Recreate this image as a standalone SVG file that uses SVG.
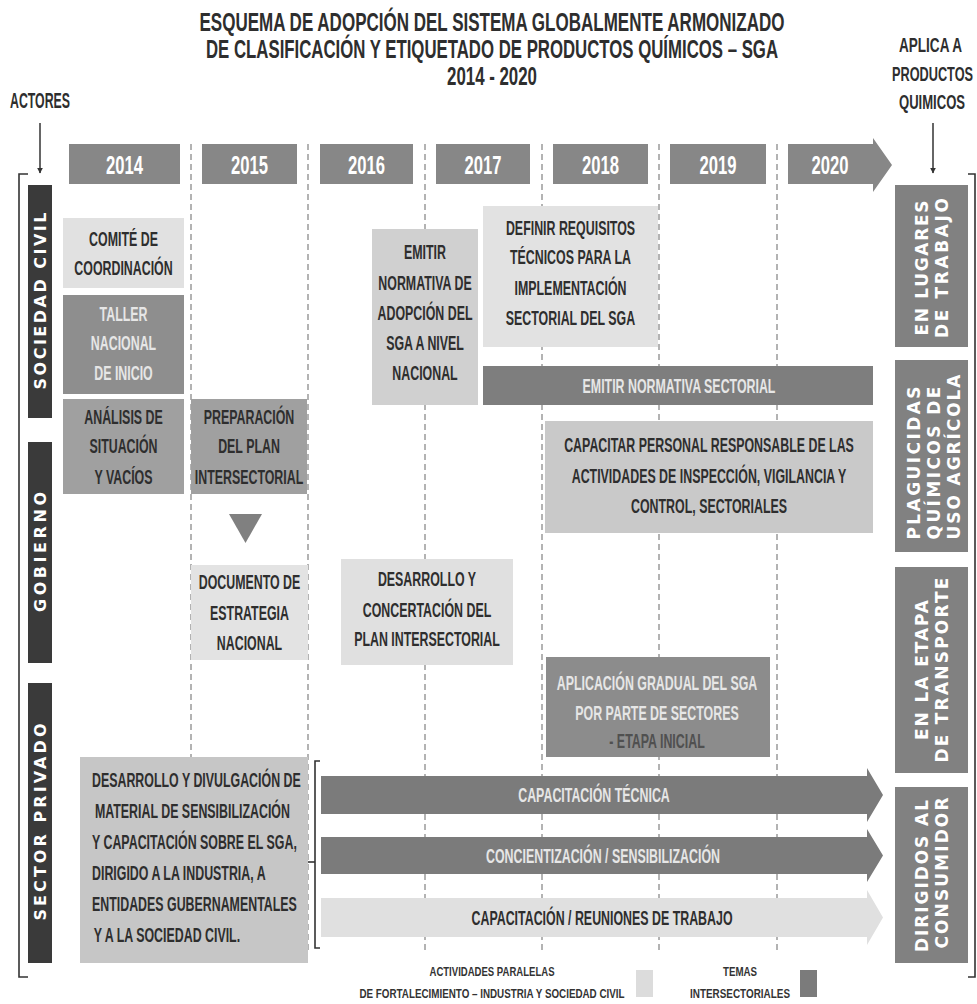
<svg xmlns="http://www.w3.org/2000/svg" width="977" height="1004" viewBox="0 0 977 1004">
<style>
.tt{font-family:"Liberation Sans",Arial,sans-serif;font-weight:bold;fill:#2e2e2e;text-anchor:middle}
.b{font-family:"Liberation Sans",Arial,sans-serif;font-weight:bold;font-size:21px;text-anchor:middle}
.s{text-anchor:start}
.dk{fill:#2e2e2e}
.lt{fill:#e6e6e6}
.yr{font-family:"Liberation Sans",Arial,sans-serif;font-weight:bold;font-size:25px;fill:#fff;text-anchor:middle}
.v{font-family:"DejaVu Sans",sans-serif;font-weight:bold;font-size:16px;fill:#fff;text-anchor:middle;dominant-baseline:central}
.vr{font-family:"DejaVu Sans",sans-serif;font-weight:bold;font-size:17px;fill:#fff;text-anchor:middle;dominant-baseline:central}
.lg{font-family:"Liberation Sans",Arial,sans-serif;font-weight:bold;font-size:13px;fill:#333;text-anchor:middle}
.dash{stroke:#9a9a9a;stroke-width:1.5;stroke-dasharray:6 4;fill:none}
.yb{fill:#878787}
.br{stroke:#333;stroke-width:1.6;fill:none}
.con{stroke:#333;stroke-width:1.5;fill:none}
</style>
<defs>
<marker id="ah" viewBox="0 0 10 10" refX="9" refY="5" markerWidth="6" markerHeight="7" orient="auto" markerUnits="userSpaceOnUse">
<path d="M0,0 L10,5 L0,10 z" fill="#333"/>
</marker>
</defs>
<rect width="977" height="1004" fill="#fff"/>

<g id="title">
<text class="tt" x="492" y="31" font-size="26" textLength="585" lengthAdjust="spacingAndGlyphs">ESQUEMA DE ADOPCIÓN DEL SISTEMA GLOBALMENTE ARMONIZADO</text>
<text class="tt" x="492" y="58" font-size="26" textLength="572" lengthAdjust="spacingAndGlyphs">DE CLASIFICACIÓN Y ETIQUETADO DE PRODUCTOS QUÍMICOS – SGA</text>
<text class="tt" x="492" y="85" font-size="26" textLength="90" lengthAdjust="spacingAndGlyphs">2014 - 2020</text>
</g>
<g id="actores-label">
<text class="tt" x="40" y="108" font-size="22" textLength="60" lengthAdjust="spacingAndGlyphs">ACTORES</text>
</g>
<g id="aplica-label">
<text class="tt" x="930.5" y="52" font-size="21" textLength="63" lengthAdjust="spacingAndGlyphs">APLICA A</text>
<text class="tt" x="932.5" y="81" font-size="21" textLength="81" lengthAdjust="spacingAndGlyphs">PRODUCTOS</text>
<text class="tt" x="932" y="109" font-size="21" textLength="66" lengthAdjust="spacingAndGlyphs">QUIMICOS</text>
</g>

<g id="grid">
<line class="dash" x1="191" y1="144" x2="191" y2="953"/>
<line class="dash" x1="308" y1="144" x2="308" y2="953"/>
<line class="dash" x1="425" y1="144" x2="425" y2="953"/>
<line class="dash" x1="542" y1="144" x2="542" y2="953"/>
<line class="dash" x1="659" y1="144" x2="659" y2="953"/>
<line class="dash" x1="777" y1="144" x2="777" y2="953"/>
</g>

<g id="years">
<rect class="yb" x="69" y="144" width="111" height="40"/>
<text class="yr" x="124.5" y="174" textLength="37" lengthAdjust="spacingAndGlyphs">2014</text>
<rect class="yb" x="202" y="144" width="95" height="40"/>
<text class="yr" x="249.5" y="174" textLength="37" lengthAdjust="spacingAndGlyphs">2015</text>
<rect class="yb" x="320" y="144" width="93" height="40"/>
<text class="yr" x="366.5" y="174" textLength="37" lengthAdjust="spacingAndGlyphs">2016</text>
<rect class="yb" x="436" y="144" width="94" height="40"/>
<text class="yr" x="483" y="174" textLength="37" lengthAdjust="spacingAndGlyphs">2017</text>
<rect class="yb" x="553" y="144" width="95" height="40"/>
<text class="yr" x="600.5" y="174" textLength="37" lengthAdjust="spacingAndGlyphs">2018</text>
<rect class="yb" x="670" y="144" width="96" height="40"/>
<text class="yr" x="718" y="174" textLength="37" lengthAdjust="spacingAndGlyphs">2019</text>
<polygon class="yb" points="788,144 873,144 873,138 892,165 873,192 873,184 788,184"/>
<text class="yr" x="830" y="174" textLength="37" lengthAdjust="spacingAndGlyphs">2020</text>
</g>

<g id="brackets">
<polyline class="br" points="28,174 19,174 19,977 28,977"/>
<polyline class="br" points="968,174 975,174 975,977 968,977"/>
<polyline class="br" points="320,761 315,761 315,948 320,948"/>
<line class="br" x1="306" y1="862" x2="315" y2="862"/>
</g>

<g id="actor-sociedad-civil">
<rect x="28" y="185" width="24" height="233" fill="#3a3a3a"/>
<text class="v" transform="translate(40,301) rotate(-90)" textLength="177" lengthAdjust="spacing">SOCIEDAD CIVIL</text>
</g>
<g id="actor-gobierno">
<rect x="28" y="442" width="24" height="221" fill="#3a3a3a"/>
<text class="v" transform="translate(40,552) rotate(-90)" textLength="120" lengthAdjust="spacing">GOBIERNO</text>
</g>
<g id="actor-sector-privado">
<rect x="28" y="683" width="24" height="280" fill="#3a3a3a"/>
<text class="v" transform="translate(40,822) rotate(-90)" textLength="197" lengthAdjust="spacing">SECTOR PRIVADO</text>
</g>

<g id="comite">
<rect x="63" y="218" width="121" height="70" fill="#e1e1e1"/>
<g transform="translate(123.5,0) scale(0.59,1)">
<text class="b dk" y="246">COMITÉ DE</text>
<text class="b dk" y="275">COORDINACIÓN</text>
</g>
</g>
<g id="taller">
<rect x="63" y="295" width="121" height="99" fill="#8e8e8e"/>
<g transform="translate(123.5,0) scale(0.59,1)">
<text class="b lt" y="321">TALLER</text>
<text class="b lt" y="350">NACIONAL</text>
<text class="b lt" y="380">DE INICIO</text>
</g>
</g>
<g id="analisis">
<rect x="63" y="399" width="121" height="95" fill="#a0a0a0"/>
<g transform="translate(123.5,0) scale(0.59,1)">
<text class="b dk" y="424">ANÁLISIS DE</text>
<text class="b dk" y="453">SITUACIÓN</text>
<text class="b dk" y="484">Y VACÍOS</text>
</g>
</g>
<g id="preparacion">
<rect x="191" y="399" width="116" height="95" fill="#a0a0a0"/>
<g transform="translate(249,0) scale(0.59,1)">
<text class="b dk" y="424">PREPARACIÓN</text>
<text class="b dk" y="453">DEL PLAN</text>
<text class="b dk" y="484">INTERSECTORIAL</text>
</g>
</g>
<g id="triangulo">
<polygon points="229,514 262,514 245.5,543" fill="#808080"/>
</g>
<g id="documento">
<rect x="191" y="565" width="117" height="95" fill="#e3e3e3"/>
<g transform="translate(249.5,0) scale(0.59,1)">
<text class="b dk" y="589">DOCUMENTO DE</text>
<text class="b dk" y="620">ESTRATEGIA</text>
<text class="b dk" y="650">NACIONAL</text>
</g>
</g>
<g id="emitir-adopcion">
<rect x="372" y="229" width="106" height="176" fill="#d0d0d0"/>
<g transform="translate(425,0) scale(0.59,1)">
<text class="b dk" y="259">EMITIR</text>
<text class="b dk" y="290">NORMATIVA DE</text>
<text class="b dk" y="320">ADOPCIÓN DEL</text>
<text class="b dk" y="350">SGA A NIVEL</text>
<text class="b dk" y="380">NACIONAL</text>
</g>
</g>
<g id="definir">
<rect x="483" y="206" width="175" height="141" fill="#e2e2e2"/>
<g transform="translate(570.5,0) scale(0.59,1)">
<text class="b dk" y="235">DEFINIR REQUISITOS</text>
<text class="b dk" y="264">TÉCNICOS PARA LA</text>
<text class="b dk" y="295">IMPLEMENTACIÓN</text>
<text class="b dk" y="325">SECTORIAL DEL SGA</text>
</g>
</g>
<g id="emitir-sectorial">
<rect x="483" y="366" width="390" height="39" fill="#7e7e7e"/>
<g transform="translate(679,0) scale(0.59,1)">
<text class="b lt" y="393">EMITIR NORMATIVA SECTORIAL</text>
</g>
</g>
<g id="capacitar">
<rect x="545" y="421" width="328" height="112" fill="#c9c9c9"/>
<g transform="translate(709,0) scale(0.59,1)">
<text class="b dk" y="452">CAPACITAR PERSONAL RESPONSABLE DE LAS</text>
<text class="b dk" y="483">ACTIVIDADES DE INSPECCIÓN, VIGILANCIA Y</text>
<text class="b dk" y="513">CONTROL, SECTORIALES</text>
</g>
</g>
<g id="concertacion">
<rect x="341" y="559" width="172" height="106" fill="#e0e0e0"/>
<g transform="translate(427,0) scale(0.59,1)">
<text class="b dk" y="586">DESARROLLO Y</text>
<text class="b dk" y="617">CONCERTACIÓN DEL</text>
<text class="b dk" y="646">PLAN INTERSECTORIAL</text>
</g>
</g>
<g id="aplicacion">
<rect x="546" y="657" width="224" height="100" fill="#8c8c8c"/>
<g transform="translate(657,0) scale(0.59,1)">
<text class="b lt" y="690">APLICACIÓN GRADUAL DEL SGA</text>
<text class="b lt" y="720">POR PARTE DE SECTORES</text>
<text class="b" y="748" fill="#505050">- ETAPA INICIAL</text>
</g>
</g>
<g id="divulgacion">
<rect x="80" y="757" width="228" height="206" fill="#c6c6c6"/>
<g transform="translate(92,0) scale(0.59,1)">
<text class="b dk s" y="787">DESARROLLO Y DIVULGACIÓN DE</text>
<text class="b dk s" x="5" y="818">MATERIAL DE SENSIBILIZACIÓN</text>
<text class="b dk s" y="849">Y CAPACITACIÓN SOBRE EL SGA,</text>
<text class="b dk s" y="880">DIRIGIDO A LA INDUSTRIA, A</text>
<text class="b dk s" y="911">ENTIDADES GUBERNAMENTALES</text>
<text class="b dk s" x="3" y="942">Y A LA SOCIEDAD CIVIL.</text>
</g>
</g>
<g id="capacitacion-tecnica">
<polygon points="321,776 867,776 867,768 883,795 867,822 867,814 321,814" fill="#7b7b7b"/>
<g transform="translate(594,0) scale(0.59,1)"><text class="b lt" y="802">CAPACITACIÓN TÉCNICA</text></g>
</g>
<g id="concientizacion">
<polygon points="321,837 867,837 867,829 883,855.5 867,882 867,874 321,874" fill="#7b7b7b"/>
<g transform="translate(603,0) scale(0.59,1)"><text class="b lt" y="863">CONCIENTIZACIÓN / SENSIBILIZACIÓN</text></g>
</g>
<g id="reuniones">
<polygon points="321,898 867,898 867,890 883,917.5 867,945 867,937 321,937" fill="#e0e0e0"/>
<g transform="translate(602,0) scale(0.59,1)"><text class="b dk" y="925">CAPACITACIÓN / REUNIONES DE TRABAJO</text></g>
</g>

<g id="lugares-trabajo">
<rect x="895" y="185" width="73" height="162" fill="#818181"/>
<text class="vr" transform="translate(922,268) rotate(-90)" textLength="135" lengthAdjust="spacing">EN LUGARES</text>
<text class="vr" transform="translate(942,268) rotate(-90)" textLength="140" lengthAdjust="spacing">DE TRABAJO</text>
</g>
<g id="plaguicidas">
<rect x="895" y="360" width="73" height="192" fill="#818181"/>
<text class="vr" transform="translate(913.5,463) rotate(-90)" textLength="153" lengthAdjust="spacing">PLAGUICIDAS</text>
<text class="vr" transform="translate(933.5,463) rotate(-90)" textLength="153" lengthAdjust="spacing">QUÍMICOS DE</text>
<text class="vr" transform="translate(953.5,457) rotate(-90)" textLength="165" lengthAdjust="spacing">USO AGRÍCOLA</text>
</g>
<g id="transporte">
<rect x="895" y="567" width="73" height="206" fill="#818181"/>
<text class="vr" transform="translate(922,670) rotate(-90)" textLength="140" lengthAdjust="spacing">EN LA ETAPA</text>
<text class="vr" transform="translate(942,670) rotate(-90)" textLength="185" lengthAdjust="spacing">DE TRANSPORTE</text>
</g>
<g id="consumidor">
<rect x="895" y="787" width="73" height="176" fill="#818181"/>
<text class="vr" transform="translate(922,876) rotate(-90)" textLength="152" lengthAdjust="spacing">DIRIGIDOS AL</text>
<text class="vr" transform="translate(942,873) rotate(-90)" textLength="151" lengthAdjust="spacing">CONSUMIDOR</text>
</g>

<g id="legend">
<text class="lg" x="492" y="976" textLength="125" lengthAdjust="spacingAndGlyphs">ACTIVIDADES PARALELAS</text>
<text class="lg" x="492" y="998" textLength="265" lengthAdjust="spacingAndGlyphs">DE FORTALECIMIENTO – INDUSTRIA Y SOCIEDAD CIVIL</text>
<rect x="636" y="970" width="17" height="27" fill="#dcdcdc"/>
<text class="lg" x="740" y="976" textLength="34" lengthAdjust="spacingAndGlyphs">TEMAS</text>
<text class="lg" x="740" y="998" textLength="100" lengthAdjust="spacingAndGlyphs">INTERSECTORIALES</text>
<rect x="800" y="970" width="17" height="27" fill="#7b7b7b"/>
</g>

<g id="connectors">
<line class="con" x1="40" y1="123" x2="40" y2="173" marker-end="url(#ah)"/>
<line class="con" x1="933" y1="123" x2="933" y2="173" marker-end="url(#ah)"/>
</g>
</svg>
